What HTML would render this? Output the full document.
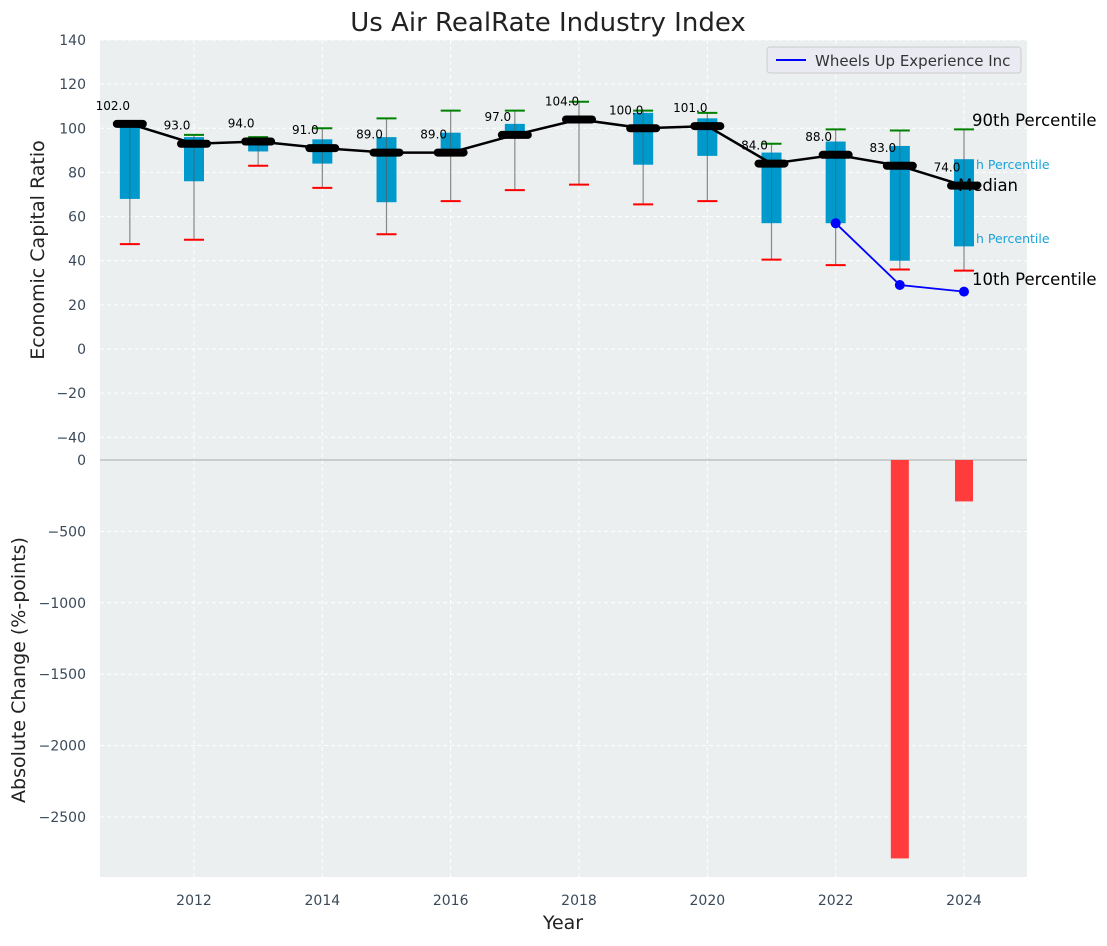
<!DOCTYPE html>
<html><head><meta charset="utf-8"><style>
body{margin:0;background:#fff;font-family:"DejaVu Sans","Liberation Sans",sans-serif;}
svg text{font-family:"DejaVu Sans","Liberation Sans",sans-serif;}
</style></head><body>
<svg id="c" width="1107" height="942" xmlns="http://www.w3.org/2000/svg"></svg>
<script>
const years=[2011,2012,2013,2014,2015,2016,2017,2018,2019,2020,2021,2022,2023,2024];
const medians=[102,93,94,91,89,89,97,104,100,101,84,88,83,74];
const q1=[68,76,89.5,84,66.5,89,97,104,83.5,87.5,57,57,40,46.5];
const q3=[102,96,94,95,96,98,102,104,107,104.5,89,94,92,86];
const p90=[102,97,96,100,104.5,108,108,112,108,107,93,99.5,99,99.5];
const p10=[47.5,49.5,83,73,52,67,72,74.5,65.5,67,40.5,38,36,35.5];
const companyYears=[2022,2023,2024];
const companyVals=[57,29,26];
const changeYears=[2023,2024];
const changeVals=[-2790,-290];
const topTicks=[140,120,100,80,60,40,20,0,-20,-40];
const botTicks=[0,-500,-1000,-1500,-2000,-2500];
const xTicks=[2012,2014,2016,2018,2020,2022,2024];

const L=100,R=1027,T1=40,B1=460,T2=460,B2=877;
const x=v=>194+(v-2012)*(770/12);
const y1=v=>349-v*(309/140);
function yb(v){return 460+(-v)*71.4/500;}
const svg=document.getElementById('c');
const NS='http://www.w3.org/2000/svg';
function el(t,a,p){const e=document.createElementNS(NS,t);for(const k in a)e.setAttribute(k,a[k]);(p||svg).appendChild(e);return e;}
function txt(s,a,p){const e=el('text',a,p);e.textContent=s;return e;}

let bg=el('rect',{x:L,y:T1,width:R-L,height:B2-T1,fill:'#ebeff0'});


xTicks.forEach(t=>{let g=el('line',{x1:x(t),x2:x(t),y1:T1,y2:B2,stroke:'#fff','stroke-dasharray':'4,3','stroke-width':1});
});
topTicks.forEach(t=>{let g=el('line',{x1:L,x2:R,y1:y1(t),y2:y1(t),stroke:'#fff','stroke-dasharray':'4,3'});

let l=txt(t<0?'\u2212'+(-t):t,{x:L-14,y:y1(t)+5,'text-anchor':'end','font-size':14,fill:'#3a4a5a'});
});
botTicks.forEach(t=>{let g=el('line',{x1:L,x2:R,y1:yb(t),y2:yb(t),stroke:'#fff','stroke-dasharray':'4,3'});

let l=txt(t<0?'\u2212'+(-t):t,{x:L-14,y:yb(t)+5,'text-anchor':'end','font-size':14,fill:'#3a4a5a'});
});
let sep=el('line',{x1:L,x2:R,y1:460,y2:460,stroke:'#aaa'});

xTicks.forEach(t=>{let l=txt(t,{x:x(t),y:905,'text-anchor':'middle','font-size':14,fill:'#3a4a5a'});
});

years.forEach((yr,i)=>{
 const cx=x(yr);
 let w=el('line',{x1:cx,x2:cx,y1:y1(p90[i]),y2:y1(p10[i]),stroke:'#888','stroke-width':1.2});
 
 let b=el('rect',{x:cx-10,y:y1(q3[i]),width:20,height:Math.max(1,y1(q1[i])-y1(q3[i])),fill:'#0099cc'});
 
 let w2=el('line',{x1:cx,x2:cx,y1:y1(q3[i]),y2:y1(q1[i]),stroke:'#555','stroke-width':1,opacity:0.6});
 
 let g=el('line',{x1:cx-10,x2:cx+10,y1:y1(p90[i]),y2:y1(p90[i]),stroke:'green','stroke-width':2});
 
 let r=el('line',{x1:cx-10,x2:cx+10,y1:y1(p10[i]),y2:y1(p10[i]),stroke:'red','stroke-width':2});
 
});
let pl=el('polyline',{points:years.map((yr,i)=>x(yr)+','+y1(medians[i])).join(' '),fill:'none',stroke:'#000','stroke-width':2.5});

years.forEach((yr,i)=>{
 let m=el('line',{x1:x(yr)-13,x2:x(yr)+13,y1:y1(medians[i]),y2:y1(medians[i]),stroke:'#000','stroke-width':8,'stroke-linecap':'round'});
 
 let l=txt(medians[i].toFixed(1),{x:x(yr)-17,y:y1(medians[i])-14,'text-anchor':'middle','font-size':12,fill:'#000'});
 
});
let cl=el('polyline',{points:companyYears.map((yr,i)=>x(yr)+','+y1(companyVals[i])).join(' '),fill:'none',stroke:'blue','stroke-width':1.8});

companyYears.forEach((yr,i)=>{let c=el('circle',{cx:x(yr),cy:y1(companyVals[i]),r:5,fill:'blue'});
});
changeYears.forEach((yr,i)=>{let v=changeVals[i];
 let b=el('rect',{x:x(yr)-9,y:yb(Math.max(0,v)),width:18,height:Math.abs(yb(v)-yb(0)),fill:'#ff3b3b'});
 });
</script>
<svg style="position:absolute;left:0;top:0" width="1107" height="942" xmlns="http://www.w3.org/2000/svg">
<text x="548" y="31" text-anchor="middle" font-size="26" fill="#222">Us Air RealRate Industry Index</text>
<text x="44" y="250" text-anchor="middle" font-size="19" fill="#222" transform="rotate(-90 44 250)">Economic Capital Ratio</text>
<text x="25" y="670" text-anchor="middle" font-size="19" fill="#222" transform="rotate(-90 25 670)">Absolute Change (%-points)</text>
<text x="563" y="929" text-anchor="middle" font-size="19" fill="#222">Year</text>
<g>
<rect x="767" y="47" width="254" height="26" rx="3" fill="#eaeaf2" stroke="#ccc"/>
<line x1="776" x2="806" y1="60" y2="60" stroke="blue" stroke-width="2"/>
<text x="815" y="66" font-size="15" fill="#333">Wheels Up Experience Inc</text>
</g>
<text x="972" y="126" font-size="16.5" fill="#000">90th Percentile</text>
<text x="976" y="169" font-size="12.5" fill="#1aa3d9">h Percentile</text>
<text x="958" y="191" font-size="16.5" fill="#000">Median</text>
<text x="976" y="243" font-size="12.5" fill="#1aa3d9">h Percentile</text>
<text x="972" y="285" font-size="16.5" fill="#000">10th Percentile</text>
</svg>
</body></html>
